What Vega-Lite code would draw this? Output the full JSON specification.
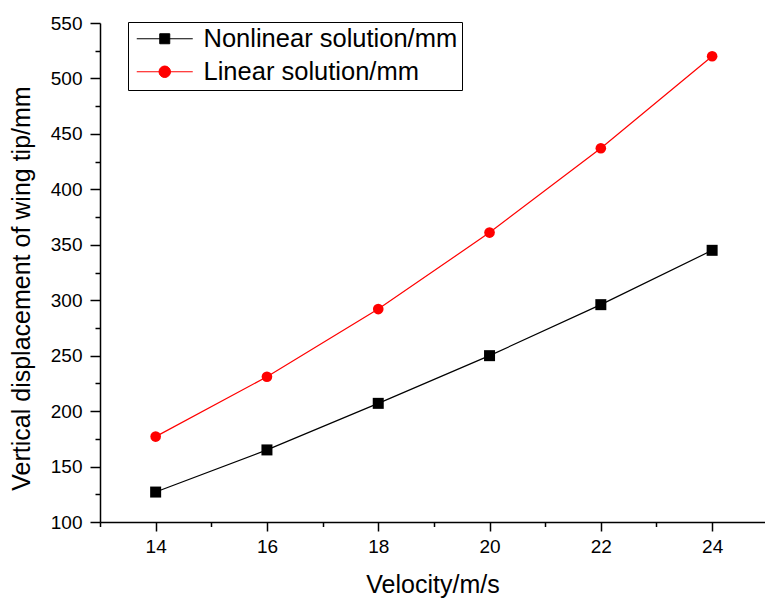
{
  "$schema": "https://vega.github.io/schema/vega-lite/v6.json",
  "width": 665,
  "height": 499,
  "autosize": {"type": "none"},
  "padding": {"left": 100, "top": 23, "right": 0, "bottom": 77},
  "config": {
    "view": {"stroke": null},
    "font": "Liberation Sans",
    "axis": {
      "domainColor": "black",
      "tickColor": "black",
      "labelColor": "black",
      "titleColor": "black",
      "grid": false,
      "domainWidth": 1.5,
      "tickWidth": 1.5,
      "labelFont": "Liberation Sans",
      "titleFont": "Liberation Sans",
      "titleFontWeight": "normal"
    }
  },
  "data": {
    "values": [
      {"v": 14, "d": 127, "s": "Nonlinear solution/mm"},
      {"v": 16, "d": 165, "s": "Nonlinear solution/mm"},
      {"v": 18, "d": 207, "s": "Nonlinear solution/mm"},
      {"v": 20, "d": 250, "s": "Nonlinear solution/mm"},
      {"v": 22, "d": 296, "s": "Nonlinear solution/mm"},
      {"v": 24, "d": 345, "s": "Nonlinear solution/mm"},
      {"v": 14, "d": 177, "s": "Linear solution/mm"},
      {"v": 16, "d": 231, "s": "Linear solution/mm"},
      {"v": 18, "d": 292, "s": "Linear solution/mm"},
      {"v": 20, "d": 361, "s": "Linear solution/mm"},
      {"v": 22, "d": 437, "s": "Linear solution/mm"},
      {"v": 24, "d": 520, "s": "Linear solution/mm"}
    ]
  },
  "layer": [
    {
      "mark": {"type": "line", "strokeWidth": 1.2},
      "encoding": {
        "x": {
          "field": "v", "type": "quantitative",
          "scale": {"domain": [13, 24.95], "nice": false, "zero": false},
          "axis": {
            "orient": "bottom",
            "values": [14, 16, 18, 20, 22, 24],
            "tickSize": 9,
            "labelFontSize": 19,
            "labelPadding": 6,
            "labelFlush": false,
            "title": "Velocity/m/s",
            "titleFontSize": 25,
            "titlePadding": 16
          }
        },
        "y": {
          "field": "d", "type": "quantitative",
          "scale": {"domain": [100, 550], "nice": false, "zero": false},
          "axis": {
            "orient": "left",
            "values": [100, 150, 200, 250, 300, 350, 400, 450, 500, 550],
            "tickSize": 10,
            "labelFontSize": 19,
            "labelPadding": 8,
            "labelFlush": false,
            "title": "Vertical displacement of wing tip/mm",
            "titleFontSize": 25,
            "titleX": -66,
            "titleY": 265
          }
        },
        "color": {
          "field": "s", "type": "nominal",
          "scale": {"domain": ["Nonlinear solution/mm", "Linear solution/mm"], "range": ["#000000", "#ff0000"]},
          "legend": {
            "orient": "none",
            "legendX": 28,
            "legendY": -1,
            "title": null,
            "labelFontSize": 25.5,
            "labelFont": "Liberation Sans",
            "labelColor": "black",
            "labelLimit": 0,
            "symbolSize": 100,
            "symbolOffset": -3,
            "labelOffset": 49,
            "padding": 4,
            "rowPadding": 6,
            "strokeColor": "black",
            "fillColor": "white",
            "encode": {
              "symbols": {
                "update": {
                  "shape": {"signal": "datum.value === 'Nonlinear solution/mm' ? 'M-1,0H10.2M3.6,-1H5.6V1H3.6Z' : 'M-1,0H10.2M3.45,0A1.15,1.15 0 1,1 5.75,0A1.15,1.15 0 1,1 3.45,0Z'"},
                  "fill": {"signal": "scale('color', datum.value)"},
                  "stroke": {"signal": "scale('color', datum.value)"},
                  "opacity": {"value": 1},
                  "fillOpacity": {"value": 1},
                  "strokeWidth": {"value": 1}
                }
              }
            }
          }
        }
      }
    },
    {
      "transform": [{"filter": "datum.s === 'Nonlinear solution/mm'"}],
      "mark": {"type": "point", "shape": "square", "filled": true, "opacity": 1, "size": 121},
      "encoding": {
        "x": {
          "field": "v", "type": "quantitative",
          "axis": {
            "orient": "bottom",
            "values": [13, 15, 17, 19, 21, 23],
            "tickSize": 4.5,
            "labels": false,
            "domain": false,
            "title": null
          }
        },
        "y": {
          "field": "d", "type": "quantitative",
          "axis": {
            "orient": "left",
            "values": [125, 175, 225, 275, 325, 375, 425, 475, 525],
            "tickSize": 5,
            "labels": false,
            "domain": false,
            "title": null
          }
        },
        "color": {"field": "s", "type": "nominal"}
      }
    },
    {
      "transform": [{"filter": "datum.s === 'Linear solution/mm'"}],
      "mark": {"type": "point", "shape": "circle", "filled": true, "opacity": 1, "size": 113},
      "encoding": {
        "x": {"field": "v", "type": "quantitative", "axis": null},
        "y": {"field": "d", "type": "quantitative", "axis": null},
        "color": {"field": "s", "type": "nominal"}
      }
    }
  ],
  "resolve": {"axis": {"x": "independent", "y": "independent"}}
}
